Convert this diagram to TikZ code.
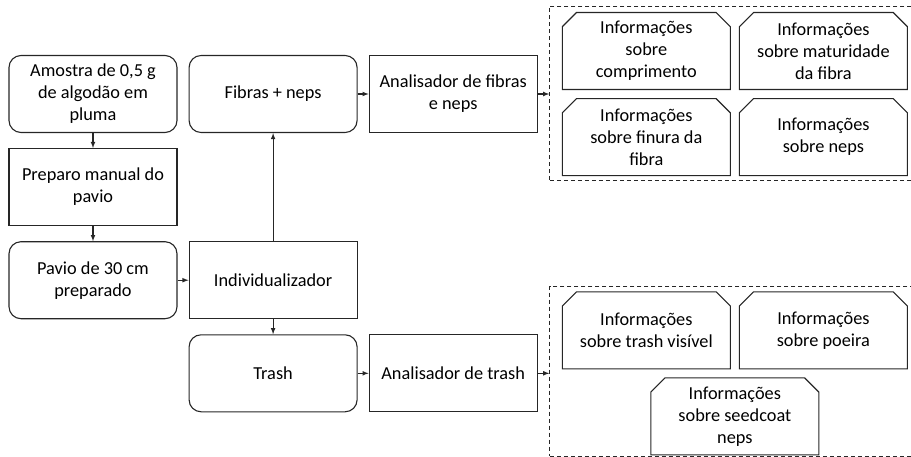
\documentclass[tikz,border=0pt]{standalone}
\usepackage{fontspec}
\setmainfont{Carlito}
\usetikzlibrary{positioning}
\usetikzlibrary{fit}
\usetikzlibrary{shapes.misc}
\usetikzlibrary{arrows}

\begin{document}
\begin{tikzpicture}[
            > = latex, % arrow head style
            x = 1pt, y = -1pt,
            node distance = 15pt and 11pt, % gap between boxes
            font = \fontsize{18.3}{22}\selectfont,
            line width = 1.1pt,
            draw = black!85
        ]

        \tikzset{
            box/.style = {draw = black!85, align = center, minimum width = 168pt, minimum height = 77pt, inner sep = 2pt},
            roundbox/.style = {box, rounded corners = 12pt},
            info/.style = {box, chamfered rectangle, chamfered rectangle corners = {north west, north east}, chamfered rectangle xsep = 11pt},
            group/.style = {draw = black!85, line width = 0.9pt, dash pattern = on 4pt off 3pt, inner sep = 0pt}
        }

        \useasboundingbox (0,0) rectangle (911,456);

        % sample preparation
        \node[roundbox] (amostra) at (93,94) {Amostra de 0,5 g\\de algodão em\\pluma};
        \node[box] (preparo) [below=of amostra] {Preparo manual do\\pavio};
        \node[roundbox] (pavio) [below=of preparo] {Pavio de 30 cm\\preparado};

        \path[->] (amostra) edge (preparo);
        \path[->] (preparo) edge (pavio);

        % separation
        \node[box] (indiv) [right=of pavio] {Individualizador};
        \node[roundbox] (fibras) [right=of amostra] {Fibras + neps};
        \node[roundbox] (trash) [below=of indiv] {Trash};

        \path[->] (pavio) edge (indiv);
        \path[->] (indiv) edge (fibras);
        \path[->] (indiv) edge (trash);

        % analysers
        \node[box] (anfib) [right=of fibras] {Analisador de fibras\\e neps};
        \node[box] (antrash) [right=of trash] {Analisador de trash};

        \path[->] (fibras) edge (anfib);
        \path[->] (trash) edge (antrash);

        % fibre results
        \node[info] (comp) [right=24pt of anfib, yshift=43pt] {Informações\\sobre\\comprimento};
        \node[info] (mat) [right=8pt of comp] {Informações\\sobre maturidade\\da fibra};
        \node[info] (fin) [below=8pt of comp] {Informações\\sobre finura da\\fibra};
        \node[info] (nep) [below=8pt of mat] {Informações\\sobre neps};

        % trash results
        \node[info] (vis) [right=24pt of antrash, yshift=43pt] {Informações\\sobre trash visível};
        \node[info] (poe) [right=8pt of vis] {Informações\\sobre poeira};
        \node[info] (seed) [below=8pt of vis.south east, xshift=4pt] {Informações\\sobre seedcoat\\neps};

        % dashed groups
        \coordinate (fibnw) at ([xshift=-12pt,yshift=6pt]comp.west |- comp.north);
        \coordinate (fibse) at ([xshift=12pt,yshift=-4pt]nep.east |- nep.south);
        \coordinate (trnw) at ([xshift=-12pt,yshift=5pt]vis.west |- vis.north);
        \coordinate (trse) at ([xshift=12pt,yshift=-1pt]poe.east |- seed.south);
        \node[group, fit=(fibnw) (fibse)] (grpfib) {};
        \node[group, fit=(trnw) (trse)] (grptrash) {};

        \draw[->] (anfib.east) -- (anfib.east -| grpfib.west);
        \draw[->] (antrash.east) -- (antrash.east -| grptrash.west);

\end{tikzpicture}
\end{document}
